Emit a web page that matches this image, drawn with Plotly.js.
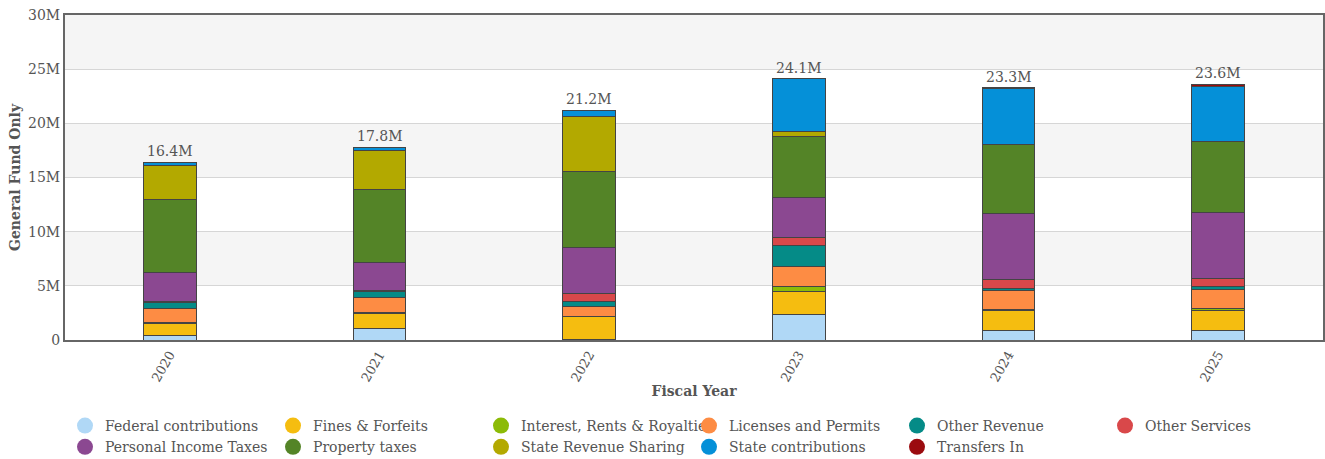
<!DOCTYPE html>
<html>
<head>
<meta charset="utf-8">
<script src="https://cdn.plot.ly/plotly-3.0.1.min.js"></script>
<style>html,body{margin:0;padding:0;background:#fff;}#chart{width:1325px;height:459px;}</style>
</head>
<body>
<div id="chart"></div>
<script>
// Fiscal years (categories)
const years = ["2020", "2021", "2022", "2023", "2024", "2025"];
// Revenue by source, in millions of dollars
const federalContributions = [0.37, 1.04, 0.08, 2.31, 0.92, 0.92];
const finesForfeits        = [1.13, 1.39, 2.10, 2.18, 1.78, 1.82];
const interestRents        = [0.16, 0.13, 0.00, 0.43, 0.13, 0.15];
const licensesPermits      = [1.25, 1.38, 0.90, 1.82, 1.72, 1.79];
const otherRevenue         = [0.53, 0.56, 0.46, 2.00, 0.25, 0.24];
const otherServices        = [0.13, 0.05, 0.77, 0.71, 0.80, 0.78];
const personalIncomeTaxes  = [2.68, 2.65, 4.20, 3.66, 6.10, 6.05];
const propertyTaxes        = [6.74, 6.65, 7.05, 5.69, 6.37, 6.56];
const stateRevenueSharing  = [3.16, 3.60, 5.10, 0.46, 0.00, 0.00];
const stateContributions   = [0.25, 0.35, 0.55, 4.84, 5.10, 5.10];
const transfersIn          = [0.00, 0.00, 0.00, 0.00, 0.13, 0.20];
// Total labels shown above each bar
const totalLabels = ["16.4M", "17.8M", "21.2M", "24.1M", "23.3M", "23.6M"];

const seriesNames = ["Federal contributions", "Fines & Forfeits", "Interest, Rents & Royalties",
  "Licenses and Permits", "Other Revenue", "Other Services", "Personal Income Taxes",
  "Property taxes", "State Revenue Sharing", "State contributions", "Transfers In"];
const seriesData = [federalContributions, finesForfeits, interestRents, licensesPermits,
  otherRevenue, otherServices, personalIncomeTaxes, propertyTaxes, stateRevenueSharing,
  stateContributions, transfersIn];
const seriesColors = ["#b0d8f6", "#f5bd10", "#8cbb07", "#fd8c44", "#058b87", "#d9484a",
  "#8b4891", "#548427", "#b3a900", "#0590d8", "#9b0b0f"];

const FONT = "DejaVu Serif, serif";
const traces = [];
seriesNames.forEach((name, i) => {
  traces.push({
    type: "bar", name: name, x: years,
    y: seriesData[i].map(v => v * 1e6),
    marker: {color: seriesColors[i], line: {color: "#444", width: 1}},
    showlegend: false, hoverinfo: "x+y+name"
  });
});
// legend entries with round markers
seriesNames.forEach((name, i) => {
  traces.push({
    type: "scatter", mode: "markers", name: name, x: [years[0]], y: [null],
    marker: {color: seriesColors[i], size: 16, symbol: "circle"},
    showlegend: true, hoverinfo: "skip"
  });
});

const totals = years.map((_, j) => seriesData.reduce((s, arr) => s + arr[j], 0) * 1e6);
const annotations = years.map((yr, j) => ({
  x: j, y: totals[j], text: totalLabels[j], showarrow: false,
  yanchor: "bottom", yshift: 1, font: {family: FONT, size: 14, color: "#555"}
}));

const bands = [];
for (let b = 5; b < 30; b += 10) {
  bands.push({type: "rect", xref: "paper", x0: 0, x1: 1, yref: "y", y0: b * 1e6, y1: (b + 5) * 1e6,
    fillcolor: "#f5f5f5", line: {width: 0}, layer: "below"});
}

const layout = {
  width: 1325, height: 459,
  margin: {l: 65, r: 2, t: 15, b: 119},
  barmode: "stack", bargap: 0.75,
  paper_bgcolor: "#fff", plot_bgcolor: "#fff",
  font: {family: FONT, color: "#555", size: 14},
  xaxis: {
    type: "category", automargin: false, range: [-0.5, years.length - 0.5],
    tickangle: -60, showline: true, linecolor: "#666", linewidth: 2, mirror: true,
    ticks: "", tickfont: {family: FONT, size: 13, color: "#555"},
    title: {text: "<b>Fiscal Year</b>", font: {family: FONT, size: 14, color: "#555"}, standoff: 3}
  },
  yaxis: {
    automargin: false, range: [0, 30e6], dtick: 5e6, tickformat: "~s", showline: true, linecolor: "#666", linewidth: 2,
    mirror: true, gridcolor: "#d6d6d6", zeroline: false, ticks: "",
    tickfont: {family: FONT, size: 14, color: "#555"},
    title: {text: "<b>General Fund Only</b>", font: {family: FONT, size: 14, color: "#555"}, standoff: 4}
  },
  legend: {
    orientation: "h", xref: "container", yref: "container",
    x: 65 / 1325, xanchor: "left", y: 1 - 410 / 459, yanchor: "top", traceorder: "normal",
    entrywidth: 163, entrywidthmode: "pixels", tracegroupgap: 0,
    font: {family: FONT, size: 14, color: "#555"}, itemwidth: 30
  },
  shapes: bands,
  annotations: annotations,
  showlegend: true
};

Plotly.newPlot("chart", traces, layout, {displayModeBar: false, staticPlot: true});
</script>
</body>
</html>
